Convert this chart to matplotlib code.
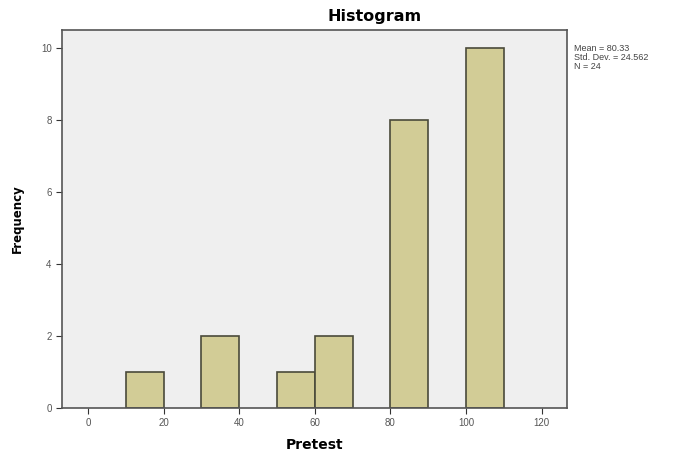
import matplotlib
matplotlib.use("Agg")
import matplotlib.pyplot as plt

plt.rcParams['font.family'] = ['Liberation Sans', 'DejaVu Sans']

# histogram bins (left edges, width 10) and counts
bin_edges = [10, 30, 50, 60, 80, 100]
counts = [1, 2, 1, 2, 8, 10]
bin_width = 10
x_ticks = [0, 20, 40, 60, 80, 100, 120]
y_ticks = [0, 2, 4, 6, 8, 10]
stats_text = "Mean = 80.33\nStd. Dev. = 24.562\nN = 24"

fig = plt.figure(figsize=(6.86, 4.53), dpi=100)
ax = fig.add_axes([62 / 686, 1 - 408 / 453, (567 - 62) / 686, (408 - 30) / 453])
ax.set_facecolor("#efefef")

ax.bar(bin_edges, counts, width=bin_width, align="edge",
       color="#d2cc96", edgecolor="#4a4a3a", linewidth=1.2)

ax.set_xlim(-6.9, 126.7)
ax.set_ylim(0, 10.5)
ax.set_xticks(x_ticks)
ax.set_yticks(y_ticks)
ax.tick_params(labelsize=7, length=4, colors="#333333", labelcolor="#555555")

for s in ax.spines.values():
    s.set_color("#555555")
    s.set_linewidth(1.2)

ax.set_xlabel("Pretest", fontsize=10, fontweight="bold", labelpad=7,
              family="DejaVu Sans")
ax.set_ylabel("Frequency", fontsize=8.5, fontweight="bold", labelpad=12,
              family="DejaVu Sans")
fig.text(375 / 686, 1 - 16 / 453, "Histogram", ha="center", va="center",
         fontsize=11.5, fontweight="bold", family="DejaVu Sans")
fig.text(574 / 686, 1 - 44 / 453, stats_text, ha="left", va="top",
         fontsize=6.5, color="#444444", linespacing=1.0)

fig.savefig("out.png", dpi=100)
